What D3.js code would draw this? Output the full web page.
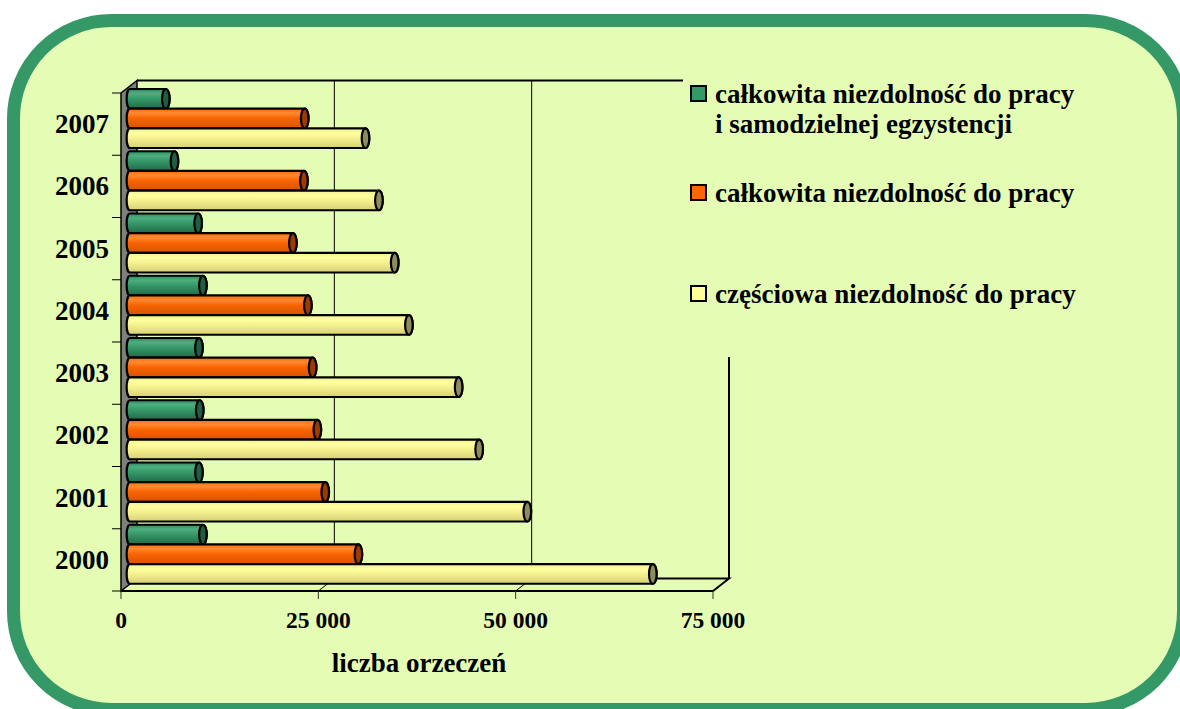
<!DOCTYPE html>
<html>
<head>
<meta charset="utf-8">
<script src="https://cdn.jsdelivr.net/npm/d3@7"></script>
<style>
  html, body { margin: 0; padding: 0; background: #ffffff; }
  svg { display: block; }
  text { font-family: "Liberation Serif", "Times New Roman", serif; font-weight: bold; fill: #000; }
</style>
</head>
<body>
<svg id="chart" width="1180" height="709"></svg>
<script>
// ---- data ----
const years = ["2007", "2006", "2005", "2004", "2003", "2002", "2001", "2000"];
const seriesKeys = ["total_indep", "total", "partial"];
const seriesLabels = [
  ["całkowita niezdolność do pracy", "i samodzielnej egzystencji"],
  ["całkowita niezdolność do pracy"],
  ["częściowa niezdolność do pracy"]
];
const totalIndepValues = [5000, 6100, 9100, 9700, 9200, 9300, 9200, 9700];
const totalValues      = [22600, 22500, 21100, 23000, 23600, 24200, 25200, 29400];
const partialValues    = [30300, 32000, 34000, 35800, 42100, 44700, 50800, 66700];
const xTicks = [0, 25000, 50000, 75000];
const axisTitle = "liczba orzeczeń";

// ---- styling ----
const seriesColors = {
  total_indep: { stops: [["0%", "#2b8a5c"], ["22%", "#4fae80"], ["45%", "#389c6b"], ["100%", "#21694a"]], cap: "#1f5e42", legend: "#339966" },
  total:       { stops: [["0%", "#ff6a00"], ["22%", "#ff8a33"], ["50%", "#f86300"], ["100%", "#d85400"]], cap: "#9c3a00", legend: "#ff6600" },
  partial:     { stops: [["0%", "#f3f08c"], ["25%", "#ffffa0"], ["55%", "#f3ee8c"], ["100%", "#d6cf78"]], cap: "#8e8c5e", legend: "#ffff99" }
};

const svg = d3.select("#chart");
const defs = svg.append("defs");
seriesKeys.forEach(k => {
  const g = defs.append("linearGradient").attr("id", "grad_" + k)
    .attr("x1", 0).attr("y1", 0).attr("x2", 0).attr("y2", 1);
  seriesColors[k].stops.forEach(s => g.append("stop").attr("offset", s[0]).attr("stop-color", s[1]));
});

// background panel
svg.append("rect")
  .attr("x", 13.5).attr("y", 20.5).attr("width", 1170).attr("height", 689)
  .attr("rx", 98).attr("ry", 98)
  .attr("fill", "#e4fcb4").attr("stroke", "#349966").attr("stroke-width", 13);

// ---- scales ----
const x = d3.scaleLinear().domain([0, 75000]).range([121, 713]);
const y = d3.scaleBand().domain(years).range([93, 591]).padding(0);
const inner = d3.scaleBand().domain(seriesKeys).range([-4, 55]).padding(0);
const dx = 16, dy = -12.5;          // depth offset of back wall
const bx = dx / 3;                  // bar plane depth (x shift)

const yTop = y.range()[0], yBot = y.range()[1];
const xL = x.range()[0], xR = x.range()[1];

const frame = svg.append("g").attr("stroke", "#000").attr("fill", "none");

// back gridlines
xTicks.filter(t => t > 0 && t < 75000).forEach(t => {
  frame.append("line").attr("x1", x(t) + dx).attr("x2", x(t) + dx)
    .attr("y1", yTop + dy).attr("y2", yBot + dy).attr("stroke-width", 1);
  frame.append("line").attr("x1", x(t)).attr("y1", yBot)
    .attr("x2", x(t) + dx).attr("y2", yBot + dy).attr("stroke-width", 1);
});
// back top & right edges
frame.append("polyline")
  .attr("points", [[xL + dx, yTop + dy], [xR + dx, yTop + dy], [xR + dx, yBot + dy]].map(p => p.join(",")).join(" "))
  .attr("stroke-width", 2);
// floor
frame.append("polyline")
  .attr("points", [[xL + dx, yBot + dy], [xR + dx, yBot + dy], [xR, yBot], [xL, yBot]].map(p => p.join(",")).join(" "))
  .attr("stroke-width", 2);

// left wall
svg.append("polygon")
  .attr("points", [[xL, yTop], [xL + dx, yTop + dy], [xL + dx, yBot + dy], [xL, yBot]].map(p => p.join(",")).join(" "))
  .attr("fill", "#7f7f7f").attr("stroke", "#000").attr("stroke-width", 1.5);

// category ticks
const catBounds = years.map(d => y(d)).concat([yBot]);
svg.append("g").selectAll("line").data(catBounds).join("line")
  .attr("x1", xL - 9).attr("x2", xL).attr("y1", d => d).attr("y2", d => d)
  .attr("stroke", "#000").attr("stroke-width", 1);

// value ticks below the floor
svg.append("g").selectAll("line").data(xTicks).join("line")
  .attr("x1", d => x(d)).attr("x2", d => x(d)).attr("y1", yBot).attr("y2", yBot + 8)
  .attr("stroke", "#333").attr("stroke-width", 1);

// ---- bars ----
const valuesByKey = { total_indep: totalIndepValues, total: totalValues, partial: partialValues };
const barData = [];
years.forEach((yr, i) => {
  seriesKeys.forEach(k => barData.push({ year: yr, key: k, value: valuesByKey[k][i] }));
});
const h = inner.bandwidth();
const rx = 3.8;
const bars = svg.append("g").selectAll("g").data(barData).join("g");
bars.append("path")
  .attr("d", d => {
    const yy = y(d.year) + inner(d.key);
    const x0 = x(0) + bx + 3.5, x1 = x(d.value) + bx;
    return `M${x0},${yy} L${x1},${yy} A${rx},${h / 2} 0 0 1 ${x1},${yy + h} L${x0},${yy + h} A${3.2},${h / 2} 0 0 1 ${x0},${yy} Z`;
  })
  .attr("fill", d => `url(#grad_${d.key})`)
  .attr("stroke", "#000").attr("stroke-width", 2.2);
bars.append("ellipse")
  .attr("cx", d => x(d.value) + bx)
  .attr("cy", d => y(d.year) + inner(d.key) + h / 2)
  .attr("rx", rx).attr("ry", h / 2)
  .attr("fill", d => seriesColors[d.key].cap)
  .attr("stroke", "#000").attr("stroke-width", 2.2);

// ---- axis labels ----
const fmt = d3.formatLocale({ decimal: ",", thousands: " ", grouping: [3], currency: ["", ""] }).format(",");
svg.append("g").selectAll("text").data(xTicks).join("text")
  .attr("x", d => x(d)).attr("y", 628).attr("text-anchor", "middle")
  .style("font-size", "23.5px").text(d => fmt(d));

svg.append("g").selectAll("text").data(years).join("text")
  .attr("x", 109).attr("y", d => y(d) + y.bandwidth() / 2 + 9).attr("text-anchor", "end")
  .style("font-size", "27px").text(d => d);

svg.append("text").attr("x", 419).attr("y", 672).attr("text-anchor", "middle")
  .style("font-size", "27px").text(axisTitle);

// ---- legend ----
const legend = svg.append("g");
legend.append("rect").attr("x", 683).attr("y", 60).attr("width", 420).attr("height", 297)
  .attr("fill", "#e4fcb4");
const legendBaselines = [103, 202, 303];
seriesKeys.forEach((k, i) => {
  const base = legendBaselines[i];
  legend.append("rect").attr("x", 691).attr("y", base - 17).attr("width", 15).attr("height", 15)
    .attr("fill", seriesColors[k].legend).attr("stroke", "#000").attr("stroke-width", 2);
  seriesLabels[i].forEach((line, j) => {
    legend.append("text").attr("x", 715).attr("y", base + j * 30)
      .style("font-size", "27px").text(line);
  });
});
</script>
</body>
</html>
